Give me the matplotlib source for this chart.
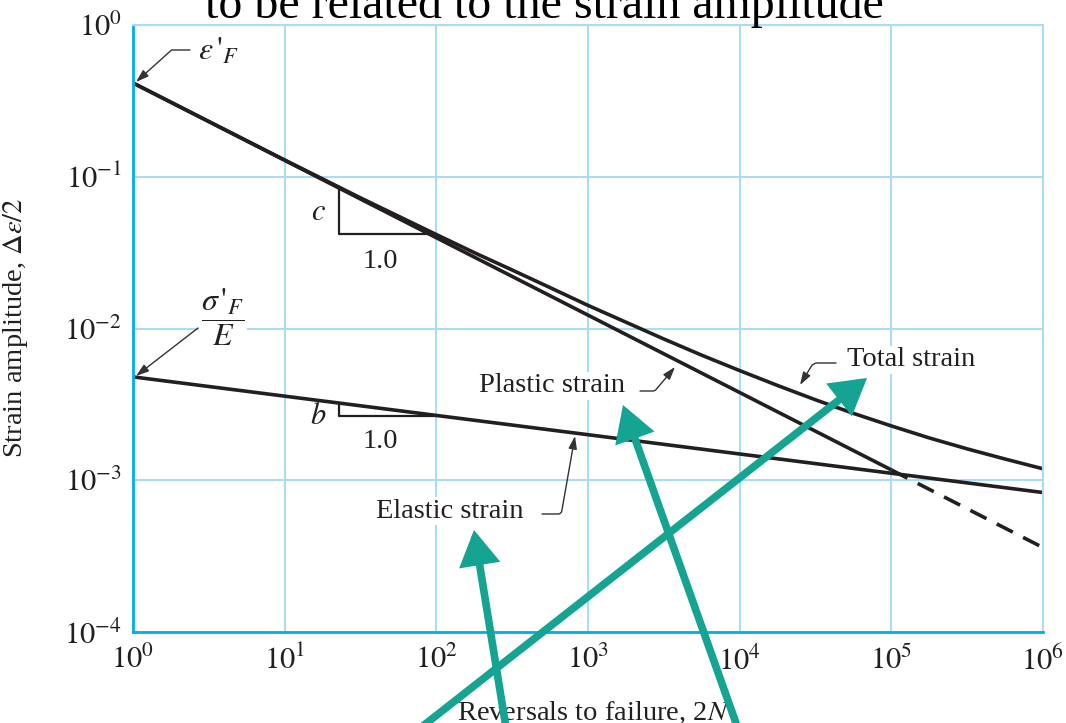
import matplotlib
matplotlib.use("Agg")
import matplotlib.pyplot as plt
from matplotlib.patches import FancyArrowPatch
from matplotlib.ticker import NullLocator

plt.rcParams["font.family"] = ["Liberation Serif", "DejaVu Serif"]
plt.rcParams["mathtext.fontset"] = "stix"

W, H = 1066, 723
INK = "#231f20"
GRID = "#a9ddf6"
AXIS_BLUE = "#00aeef"
TEAL = "#15a392"

# strain-life lines (reversals 2N vs strain amplitude)
PLASTIC_N = [1, 1e5]
PLASTIC_EPS = [0.415, 1.17e-3]
PLASTIC_EXT_N = [1e5, 1e6]
PLASTIC_EXT_EPS = [1.17e-3, 3.6e-4]
ELASTIC_N = [1, 1e6]
ELASTIC_EPS = [4.8e-3, 8.3e-4]
TOTAL_N = [1, 10, 31.6, 1e2, 178, 316, 562, 1e3, 1.78e3, 3.16e3, 5.62e3, 1e4,
           1.78e4, 3.16e4, 5.62e4, 1e5, 1.78e5, 3.16e5, 5.62e5, 1e6]
TOTAL_EPS = [0.415, 0.129, 0.0726, 0.0416, 0.0316, 0.0243, 0.0186, 0.0142,
             0.0110, 0.00853, 0.00667, 0.00528, 0.00421, 0.00339, 0.00276,
             0.00228, 0.00190, 0.00161, 0.00138, 0.00119]

# slope triangles
C_TRI_N = [22.8, 22.8, 88]
C_TRI_EPS = [0.084, 0.042, 0.042]
B_TRI_N = [22.8, 22.8, 100]
B_TRI_EPS = [3.2e-3, 2.64e-3, 2.64e-3]

X_TICKS = [1, 1e1, 1e2, 1e3, 1e4, 1e5, 1e6]
X_TICK_LABELS = [r"$10^{0}$", r"$10^{1}$", r"$10^{2}$", r"$10^{3}$",
                 r"$10^{4}$", r"$10^{5}$", r"$10^{6}$"]
Y_TICKS = [1e-4, 1e-3, 1e-2, 1e-1, 1]
Y_TICK_LABELS = [r"$10^{-4}$", r"$10^{-3}$", r"$10^{-2}$", r"$10^{-1}$", r"$10^{0}$"]


def fp(x, y):
    # pixel position measured from the top-left -> figure pixels
    return (x, H - y)


fig = plt.figure(figsize=(W / 100, H / 100), dpi=100, facecolor="white")
ax = fig.add_axes([133 / W, 1 - 632 / H, 910 / W, 607 / H])
ax.set_xscale("log")
ax.set_yscale("log")
ax.set_xlim(1, 1e6)
ax.set_ylim(1e-4, 1)

ax.set_xticks(X_TICKS)
ax.set_xticklabels(X_TICK_LABELS)
ax.set_yticks(Y_TICKS)
ax.set_yticklabels(Y_TICK_LABELS)
ax.xaxis.set_minor_locator(NullLocator())
ax.yaxis.set_minor_locator(NullLocator())
ax.tick_params(length=0, labelsize=22, colors=INK)
ax.tick_params(axis="x", pad=10)
ax.tick_params(axis="y", pad=8)

ax.grid(True, which="major", color=GRID, lw=1.5)
ax.set_axisbelow(True)
for side in ("left", "bottom"):
    ax.spines[side].set_color(AXIS_BLUE)
    ax.spines[side].set_linewidth(2.0)
for side in ("top", "right"):
    ax.spines[side].set_color(GRID)
    ax.spines[side].set_linewidth(1.5)

line_kw = dict(color=INK, lw=2.6, solid_capstyle="butt")
ax.plot(TOTAL_N, TOTAL_EPS, **line_kw)
ax.plot(PLASTIC_N, PLASTIC_EPS, **line_kw)
ax.plot(PLASTIC_EXT_N, PLASTIC_EXT_EPS, color=INK, lw=2.6, ls=(0, (5, 3.2)))
ax.plot(ELASTIC_N, ELASTIC_EPS, **line_kw)

ax.plot(C_TRI_N, C_TRI_EPS, color=INK, lw=1.6)
ax.plot(B_TRI_N, B_TRI_EPS, color=INK, lw=1.6)

ax.set_ylabel(r"Strain amplitude, $\Delta\varepsilon/2$", fontsize=20.5, color=INK)
ax.yaxis.set_label_coords((30 - 133) / 910, (632 - 328) / 607)
ax.set_xlabel(r"Reversals to failure, 2$N$", fontsize=20.5, color=INK)
ax.xaxis.set_label_coords((593 - 133) / 910, (632 - 700) / 607)

box = dict(fc="white", ec="none", pad=1.5)


def label(text, x, y, size=20.5, boxed=True):
    kw = dict(xycoords="figure pixels", ha="center", va="center",
              fontsize=size, color=INK)
    if boxed:
        kw["bbox"] = box
    ax.annotate(text, xy=fp(x, y), **kw)


label(r"$\varepsilon\,'_{F}$", 218, 52, size=23)
label(r"$\dfrac{\sigma\,'_{F}}{E}$", 223, 317, size=23)
label("Total strain", 911, 360)
label("Plastic strain", 552, 386)
label("Elastic strain", 450, 511)
label(r"$c$", 318, 213, size=22, boxed=False)
label("1.0", 380, 261, boxed=False)
label(r"$b$", 318, 416, size=22, boxed=False)
label("1.0", 380, 442, boxed=False)

arrow_kw = dict(arrowstyle="-|>,head_length=0.55,head_width=0.18",
                mutation_scale=14, lw=1.0, color="#333333",
                shrinkA=0, shrinkB=0)


def pointer(tip, start, style):
    props = dict(arrow_kw)
    props["connectionstyle"] = style
    ax.annotate("", xy=fp(*tip), xycoords="figure pixels",
                xytext=fp(*start), textcoords="figure pixels",
                arrowprops=props)


pointer((136, 82), (190, 50), "angle,angleA=0,angleB=42,rad=0")
pointer((136, 376), (198, 328), "arc3,rad=0")
pointer((800, 385), (836, 363), "angle,angleA=0,angleB=59,rad=4")
pointer((675, 367), (640, 391), "angle,angleA=0,angleB=50,rad=2")
pointer((575, 436), (542, 514), "angle,angleA=0,angleB=80,rad=3")

# heading text cut at the top edge
fig.text(544 / W, 1 - 18 / H, "to be related to the strain amplitude",
         ha="center", va="baseline", fontsize=34.5, color="black")

# teal call-out arrows over the figure
for tail, tip in [((508, 740), (474, 530)),
                  ((405, 740), (867, 378)),
                  ((742, 740), (623, 405))]:
    arr = FancyArrowPatch(
        (tail[0] / W, 1 - tail[1] / H), (tip[0] / W, 1 - tip[1] / H),
        transform=fig.transFigure,
        arrowstyle="-|>,head_length=1.45,head_width=0.85",
        mutation_scale=12, lw=5.5, color=TEAL, shrinkA=0, shrinkB=0,
        joinstyle="miter")
    fig.patches.append(arr)

fig.savefig("out.png", dpi=100, facecolor="white")
